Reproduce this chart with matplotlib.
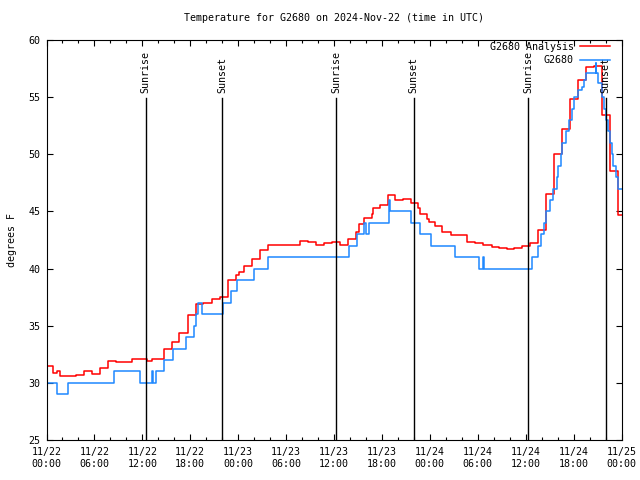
#!/usr/bin/env python3
import pandas as pd
import matplotlib
matplotlib.use('Agg')
from matplotlib import pyplot as plt
import matplotlib.dates as mdates
import matplotlib.transforms as mtransforms

START = pd.Timestamp('2024-11-22 00:00')
END = pd.Timestamp('2024-11-25 00:00')

# G2680 analysis: (hours since start, degF), step changes
ana_hours = [0.0, 0.87, 1.37, 1.75, 3.74, 4.74, 5.74, 6.74, 7.74, 8.73, 10.73, 12.6,
             13.2, 14.7, 15.7, 16.6, 17.7, 18.7, 19.6, 20.7, 21.7, 22.7, 23.7, 24.1,
             24.7, 25.7, 26.7, 27.7, 31.7, 32.7, 33.7, 34.7, 35.8, 36.7, 37.7, 38.7,
             39.1, 39.7, 40.7, 40.9, 41.7, 42.7, 43.7, 44.7, 45.7, 46.5, 46.8, 47.7,
             47.9, 48.7, 49.5, 50.7, 52.7, 53.7, 54.7, 55.8, 56.7, 57.6, 58.6, 59.6,
             60.6, 61.6, 62.5, 63.5, 64.6, 65.6, 66.6, 67.6, 68.6, 69.6, 70.6, 71.5]
ana_temp = [31.5, 30.9, 31.0, 30.6, 30.7, 31.0, 30.8, 31.3, 31.9, 31.8, 32.1, 31.9,
            32.1, 33.0, 33.6, 34.4, 35.9, 36.9, 37.0, 37.3, 37.5, 39.0, 39.4, 39.7,
            40.2, 40.8, 41.6, 42.1, 42.4, 42.3, 42.1, 42.2, 42.3, 42.1, 42.6, 43.2,
            43.9, 44.4, 44.8, 45.3, 45.6, 46.4, 46.0, 46.1, 45.7, 45.3, 44.8, 44.3,
            44.1, 43.7, 43.2, 42.9, 42.3, 42.2, 42.1, 41.9, 41.8, 41.7, 41.8, 42.0,
            42.2, 43.4, 46.5, 50.0, 52.2, 54.8, 56.5, 57.6, 57.7, 53.4, 48.5, 44.7]

# G2680 observations
obs_hours = [0.0, 0.1, 1.3, 2.75, 8.5, 11.7, 13.2, 13.35, 13.7, 14.7, 15.9, 17.5,
             18.5, 18.7, 19.0, 19.5, 22.1, 23.1, 23.8, 26.0, 27.7, 37.9, 38.9, 39.8,
             40.05, 40.4, 42.9, 43.0, 45.7, 46.8, 48.2, 51.2, 54.2, 54.65, 54.8, 60.8,
             61.5, 61.9, 62.3, 62.6, 63.0, 63.4, 63.9, 64.1, 64.4, 64.6, 65.1, 65.4,
             65.8, 66.1, 66.5, 67.0, 67.3, 67.6, 68.75, 68.8, 69.0, 69.5, 69.75, 70.0,
             70.3, 70.5, 70.8, 70.9, 71.25, 71.5]
obs_temp = [31.0, 30.0, 29.0, 30.0, 31.0, 30.0, 31.0, 30.0, 31.0, 32.0, 33.0, 34.0,
            35.0, 36.0, 37.0, 36.0, 37.0, 38.0, 39.0, 40.0, 41.0, 42.0, 43.0, 44.0,
            43.0, 44.0, 46.0, 45.0, 44.0, 43.0, 42.0, 41.0, 40.0, 41.0, 40.0, 41.0,
            42.0, 43.0, 44.0, 45.0, 46.0, 47.0, 48.0, 49.0, 50.0, 51.0, 52.0, 53.0,
            54.0, 55.0, 55.6, 55.9, 56.5, 57.1, 58.0, 57.1, 56.2, 55.0, 54.0, 53.0,
            52.0, 51.0, 50.0, 49.0, 48.0, 47.0]

sun_hours = [12.4, 22.0, 36.25, 46.0, 60.3, 70.0]
sun_labels = ['Sunrise', 'Sunset', 'Sunrise', 'Sunset', 'Sunrise', 'Sunset']


def to_times(hours):
    return [START + pd.Timedelta(hours=h) for h in hours] + [END]


plt.rcParams['font.family'] = ['DejaVu Sans Mono']
plt.rcParams['font.size'] = 7.2

fig = plt.figure(figsize=(6.4, 4.8), dpi=100)
ax = fig.add_axes([46.5 / 640, 40 / 480, 575 / 640, 400 / 480])

ax.step(to_times(ana_hours), ana_temp + [ana_temp[-1]], where='post',
        color='#ff0000', linewidth=1.1, label='G2680 Analysis')
ax.step(to_times(obs_hours), obs_temp + [obs_temp[-1]], where='post',
        color='#1e88ff', linewidth=1.1, label='G2680')

trans = mtransforms.blended_transform_factory(ax.transData, ax.transAxes)
for h, lab in zip(sun_hours, sun_labels):
    t = mdates.date2num(START + pd.Timedelta(hours=h))
    ax.plot([t, t], [0, 0.855], color='black', linewidth=1.0, transform=trans)
    ax.text(t, 0.867, lab, rotation=90, ha='center', va='bottom', transform=trans)

ax.set_xlim(START, END)
ax.set_ylim(25, 60)
ax.set_yticks(range(25, 61, 5))
ax.xaxis.set_major_locator(mdates.HourLocator(byhour=range(0, 24, 6)))
ax.xaxis.set_minor_locator(mdates.HourLocator(byhour=range(0, 24, 2)))
ax.xaxis.set_major_formatter(mdates.DateFormatter('%m/%d\n%H:%M'))
ax.tick_params(which='major', direction='in', length=4, width=0.8,
               top=True, right=True, labelsize=7.2)
ax.tick_params(which='minor', direction='in', length=2.5, width=0.8, top=True)
ax.tick_params(axis='x', pad=5)
ax.tick_params(axis='y', pad=4.5)

ax.set_title('Temperature for G2680 on 2024-Nov-22 (time in UTC)', fontsize=7.2, pad=14)
ax.set_ylabel('degrees F', labelpad=8)

ax.legend(loc='upper right', bbox_to_anchor=(0.98, 0.995), frameon=False,
          markerfirst=False, handlelength=3.0, borderpad=0, borderaxespad=0,
          labelspacing=0.35, handletextpad=0.6, fontsize=7.2)

fig.savefig('out.png', dpi=100)
